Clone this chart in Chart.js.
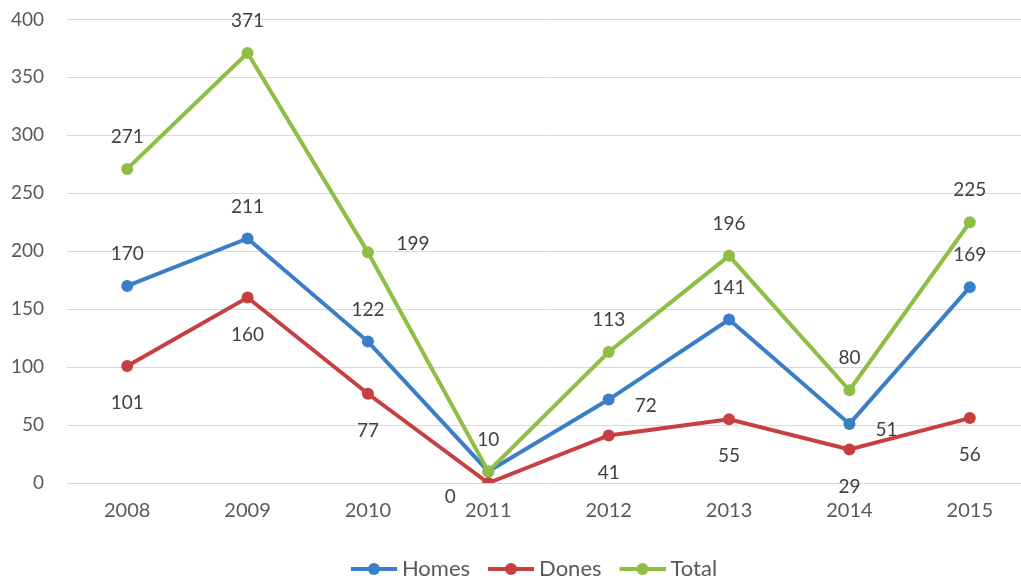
<!DOCTYPE html>
<html lang="en">
<head>
    <meta charset="UTF-8">
    <title>Homes / Dones / Total</title>
    <script src="https://cdn.jsdelivr.net/npm/chart.js"></script>
    <style>
        html, body {
            margin: 0;
            padding: 0;
            background: #ffffff;
            overflow: hidden;
        }

        #wrap {
            position: absolute;
            left: 0;
            top: -15px;
            width: 1036px;
            height: 608px;
        }
    </style>
</head>
<body>
    <div id="wrap"><canvas id="lineChart" width="1036" height="608"></canvas></div>

    <script>
        // data
        const years = ["2008", "2009", "2010", "2011", "2012", "2013", "2014", "2015"];
        const homes = [170, 211, 122, 10, 72, 141, 51, 169];
        const dones = [101, 160, 77, 0, 41, 55, 29, 56];
        const total = [271, 371, 199, 10, 113, 196, 80, 225];
        const yMin = 0;
        const yMax = 400;
        const yStep = 50;

        // where each value label sits relative to its point
        const homesLabelPos = ["above", "above", "above", "none", "right", "above", "right", "above"];
        const donesLabelPos = ["below", "below", "below", "leftDown", "below", "below", "below", "below"];
        const totalLabelPos = ["above", "above", "rightUp", "above", "above", "above", "above", "above"];

        const labelOffsets = {
            above: [0, -32],
            below: [0, 37],
            right: [37, 6],
            rightUp: [45, -8],
            leftDown: [-38, 14]
        };

        const blue = "#3b7ec8";
        const red = "#c83f3f";
        const green = "#8fbe45";

        // little line-with-dot picture for the legend
        function legendIcon(color) {
            const c = document.createElement("canvas");
            c.width = 58;
            c.height = 14;
            const g = c.getContext("2d");
            g.strokeStyle = color;
            g.lineWidth = 4;
            g.beginPath();
            g.moveTo(12, 7);
            g.lineTo(58, 7);
            g.stroke();
            g.fillStyle = color;
            g.beginPath();
            g.arc(35, 7, 6, 0, Math.PI * 2);
            g.fill();
            return c;
        }

        const valueLabels = {
            id: "valueLabels",
            beforeDraw(chart) {
                // legend sits a bit right of the canvas centre in the original
                chart.legend.left = 26;
            },
            afterDatasetsDraw(chart) {
                const ctx = chart.ctx;
                const placements = [homesLabelPos, donesLabelPos, totalLabelPos];
                ctx.save();
                ctx.font = "19px Lato";
                ctx.fillStyle = "#404040";
                ctx.textAlign = "center";
                ctx.textBaseline = "middle";
                chart.data.datasets.forEach((ds, di) => {
                    const meta = chart.getDatasetMeta(di);
                    meta.data.forEach((pt, i) => {
                        const pos = placements[di][i];
                        if (pos === "none") return;
                        const off = labelOffsets[pos];
                        ctx.fillText(String(ds.data[i]), pt.x + off[0], pt.y + off[1]);
                    });
                });
                ctx.restore();
            }
        };

        function series(label, data, color, order) {
            return {
                label: label,
                data: data,
                borderColor: color,
                backgroundColor: color,
                pointBackgroundColor: color,
                pointBorderColor: color,
                borderWidth: 4,
                pointRadius: 6,
                pointBorderWidth: 0,
                pointStyle: "circle",
                tension: 0,
                order: order
            };
        }

        const ctx = document.getElementById("lineChart").getContext("2d");

        const chart = new Chart(ctx, {
            type: "line",
            data: {
                labels: years,
                datasets: [
                    series("Homes", homes, blue, 2),
                    series("Dones", dones, red, 1),
                    series("Total", total, green, 0)
                ]
            },
            options: {
                responsive: false,
                animation: false,
                layout: {
                    padding: { top: 4, left: 0, right: 0, bottom: 3 }
                },
                plugins: {
                    tooltip: { enabled: false },
                    legend: {
                        position: "bottom",
                        labels: {
                            usePointStyle: true,
                            pointStyleWidth: 46,
                            padding: 12,
                            color: "#595959",
                            font: { family: "Lato", size: 22 },
                            sort: (a, b) => a.datasetIndex - b.datasetIndex,
                            generateLabels(chart) {
                                const items = Chart.defaults.plugins.legend.labels.generateLabels(chart);
                                items.forEach(item => {
                                    item.pointStyle = legendIcon(chart.data.datasets[item.datasetIndex].borderColor);
                                });
                                return items;
                            }
                        }
                    }
                },
                scales: {
                    x: {
                        offset: true,
                        grid: { display: false, drawTicks: false },
                        border: { display: false },
                        ticks: {
                            color: "#595959",
                            padding: 16,
                            font: { family: "Lato", size: 20 }
                        },
                        afterFit(scale) {
                            scale.height = 63;
                        }
                    },
                    y: {
                        min: yMin,
                        max: yMax,
                        grid: { color: "#d9d9d9", lineWidth: 1, drawTicks: false },
                        border: { display: false },
                        ticks: {
                            stepSize: yStep,
                            color: "#595959",
                            padding: 23,
                            font: { family: "Lato", size: 19 }
                        },
                        afterFit(scale) {
                            scale.width = 67;
                        }
                    }
                }
            },
            plugins: [valueLabels]
        });
    </script>
</body>
</html>
